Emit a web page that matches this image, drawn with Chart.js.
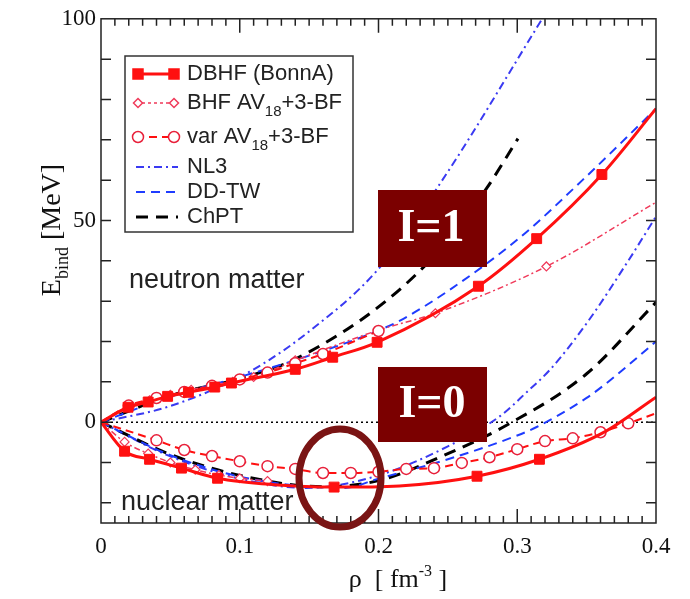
<!DOCTYPE html>
<html>
<head>
<meta charset="utf-8">
<script src="https://cdn.jsdelivr.net/npm/chart.js@4.4.1/dist/chart.umd.min.js"></script>
<style>
  html, body { margin: 0; padding: 0; background: #fff; }
</style>
</head>
<body>
<canvas id="c" width="690" height="599"></canvas>
<script>
// ---- data (rho in fm^-3, E in MeV) ----
const xTicks = [0, 0.1, 0.2, 0.3, 0.4];
const yTicks = [0, 50, 100];

const dbhfNeutRho = [0, 0.0195, 0.034, 0.048, 0.063, 0.082, 0.094, 0.14, 0.167, 0.199, 0.272, 0.314, 0.361, 0.4];
const dbhfNeutE   = [0, 3.7, 5.0, 6.4, 7.4, 8.7, 9.7, 13.1, 16.1, 19.8, 33.7, 45.5, 61.4, 77.7];
const dbhfNuclRho = [0, 0.017, 0.035, 0.058, 0.084, 0.125, 0.168, 0.215, 0.271, 0.316, 0.362, 0.4];
const dbhfNuclE   = [0, -7.2, -9.2, -11.4, -13.9, -15.5, -16.1, -15.8, -13.4, -9.2, -2.6, 6.2];
const dbhfNuclMark = [0, 1, 1, 1, 1, 0, 1, 0, 1, 1, 0, 0];

const bhfNeutRho = [0, 0.02, 0.035, 0.05, 0.065, 0.08, 0.095, 0.11, 0.14, 0.2, 0.241, 0.321, 0.4];
const bhfNeutE   = [0, 3.9, 5.4, 6.8, 8.0, 9.2, 10.0, 11.2, 15.3, 22.8, 27.0, 38.6, 54.5];
const bhfNuclRho = [0, 0.017, 0.034, 0.05, 0.068, 0.085, 0.1, 0.12];
const bhfNuclE   = [0, -4.9, -7.8, -10.0, -11.8, -13.1, -13.9, -14.6];

const varNeutRho = [0, 0.02, 0.04, 0.06, 0.08, 0.10, 0.12, 0.14, 0.16, 0.2];
const varNeutE   = [0, 4.1, 6.0, 7.5, 9.0, 10.6, 12.3, 14.6, 16.9, 22.6];
const varNuclRho = [0, 0.04, 0.06, 0.08, 0.10, 0.12, 0.14, 0.16, 0.18, 0.20, 0.22, 0.24, 0.26, 0.28, 0.30, 0.32, 0.34, 0.36, 0.38, 0.4];
const varNuclE   = [0, -4.5, -6.9, -8.4, -9.7, -10.9, -11.6, -12.6, -12.6, -12.3, -11.6, -11.4, -10.1, -8.7, -6.7, -4.7, -4.0, -2.5, -0.3, 2.2];

const nl3NeutRho = [0, 0.05, 0.107, 0.15, 0.2, 0.246, 0.318];
const nl3NeutE   = [0, 4.0, 12.5, 22.5, 38, 60, 100];
const nl3NuclRho = [0, 0.05, 0.1, 0.148, 0.2, 0.25, 0.2876, 0.307, 0.3236, 0.35, 0.38, 0.4];
const nl3NuclE   = [0, -8.5, -14, -16.3, -13.2, -6.0, 1.5, 7.5, 13.0, 24.5, 40.0, 51.0];

const ddNeutRho = [0, 0.05, 0.1, 0.15, 0.197, 0.2155, 0.25, 0.302, 0.347, 0.4];
const ddNeutE   = [0, 6.3, 11.2, 16.5, 22.3, 25.2, 32.5, 45.8, 60, 77.7];
const ddNuclRho = [0, 0.05, 0.1, 0.15, 0.175, 0.2, 0.25, 0.3, 0.314, 0.35, 0.367, 0.4];
const ddNuclE   = [0, -8.2, -13.5, -16.0, -16.3, -14.0, -9.2, -3.3, -1.2, 6.0, 10.4, 20.0];

const chptNeutRho = [0, 0.05, 0.1, 0.138, 0.206, 0.25, 0.278, 0.3005];
const chptNeutE   = [0, 6.6, 10.8, 15.3, 30.2, 45, 58, 70.3];
const chptNuclRho = [0, 0.05, 0.1, 0.16, 0.2, 0.25, 0.2926, 0.35, 0.4];
const chptNuclE   = [0, -8.0, -13.2, -16.0, -14.5, -7.8, -0.7, 12.0, 29.7];

const zeroRho = [0, 0.4];
const zeroE = [0, 0];

// ---- helpers ----
function pts(rho, e) {
  return rho.map((r, i) => ({ x: r, y: e[i] }));
}
// marker on every point except the two ends
function inner(n, r) {
  return Array.from({ length: n }, (_, i) => (i === 0 || i === n - 1 ? 0 : r));
}

const RED = '#ff1010';
const PINK = '#f03a5a';
const BLUE1 = '#3a3af2';
const BLUE2 = '#1f3cff';

function line(label, data, color, dash, width, extra) {
  return Object.assign({
    label: label,
    data: data,
    borderColor: color,
    borderDash: dash,
    borderWidth: width,
    pointRadius: 0,
    cubicInterpolationMode: 'monotone',
    fill: false,
  }, extra || {});
}

const datasets = [
  line('DBHF n', pts(dbhfNeutRho, dbhfNeutE), RED, [], 3, {
    pointStyle: 'rect', pointRadius: inner(dbhfNeutRho.length, 7),
    pointBackgroundColor: RED, pointBorderColor: RED, pointBorderWidth: 1 }),
  line('DBHF s', pts(dbhfNuclRho, dbhfNuclE), RED, [], 3, {
    pointStyle: 'rect', pointRadius: dbhfNuclMark.map(m => m * 7),
    pointBackgroundColor: RED, pointBorderColor: RED, pointBorderWidth: 1 }),
  line('var n', pts(varNeutRho, varNeutE), RED, [8, 5], 2, {
    pointStyle: 'circle', pointRadius: inner(varNeutRho.length, 5.5).map((r, i, a) => i === a.length - 1 ? 5.5 : r),
    pointBackgroundColor: '#fff', pointBorderColor: '#e8203a', pointBorderWidth: 1.5 }),
  line('var s', pts(varNuclRho, varNuclE), RED, [8, 5], 2, {
    pointStyle: 'circle', pointRadius: inner(varNuclRho.length, 5.5),
    pointBackgroundColor: '#fff', pointBorderColor: '#e8203a', pointBorderWidth: 1.5 }),
  line('BHF n', pts(bhfNeutRho, bhfNeutE), PINK, [6, 3, 2, 3], 1.5, {
    pointStyle: 'rectRot', pointRadius: inner(bhfNeutRho.length, 4.5),
    pointBackgroundColor: '#fff', pointBorderColor: PINK, pointBorderWidth: 1.2 }),
  line('BHF s', pts(bhfNuclRho, bhfNuclE), PINK, [6, 3, 2, 3], 1.5, {
    pointStyle: 'rectRot', pointRadius: inner(bhfNuclRho.length, 4.5).map((r, i, a) => i === a.length - 1 ? 4.5 : r),
    pointBackgroundColor: '#fff', pointBorderColor: PINK, pointBorderWidth: 1.2 }),
  line('DD-TW n', pts(ddNeutRho, ddNeutE), BLUE2, [9, 6], 2),
  line('DD-TW s', pts(ddNuclRho, ddNuclE), BLUE2, [9, 6], 2),
  line('ChPT n', pts(chptNeutRho, chptNeutE), '#000', [12, 8], 3),
  line('ChPT s', pts(chptNuclRho, chptNuclE), '#000', [12, 8], 3),
  line('NL3 n', pts(nl3NeutRho, nl3NeutE), BLUE1, [8, 4, 2, 4], 2),
  line('NL3 s', pts(nl3NuclRho, nl3NuclE), BLUE1, [8, 4, 2, 4], 2),
  line('zero', pts(zeroRho, zeroE), '#000', [2, 3], 1.5, { cubicInterpolationMode: 'default' }),
];

// legend entries (drawn by hand because of the subscripts)
const legendItems = [
  { parts: [['DBHF (BonnA)', 0]], color: RED, dash: [], lw: 3, m: 'rect', mr: 5, fill: RED, stroke: RED },
  { parts: [['BHF AV', 0], ['18', 1], ['+3-BF', 0]], color: PINK, dash: [3, 3], lw: 1.5, m: 'diamond', mr: 4.5, fill: '#fff', stroke: PINK },
  { parts: [['var AV', 0], ['18', 1], ['+3-BF', 0]], color: RED, dash: [8, 5], lw: 2, m: 'circle', mr: 5.5, fill: '#fff', stroke: '#e8203a' },
  { parts: [['NL3', 0]], color: BLUE1, dash: [8, 4, 2, 4], lw: 2, m: null },
  { parts: [['DD-TW', 0]], color: BLUE2, dash: [9, 6], lw: 2, m: null },
  { parts: [['ChPT', 0]], color: '#000', dash: [12, 8], lw: 3, m: null },
];
const legendRows = [74, 103, 137, 167, 192, 217];

function marker(ctx, kind, x, y, r, stroke, fill, lw) {
  ctx.save();
  ctx.setLineDash([]);
  ctx.beginPath();
  if (kind === 'rect') ctx.rect(x - r, y - r, 2 * r, 2 * r);
  else if (kind === 'circle') ctx.arc(x, y, r, 0, Math.PI * 2);
  else {
    ctx.moveTo(x, y - r); ctx.lineTo(x + r, y); ctx.lineTo(x, y + r); ctx.lineTo(x - r, y); ctx.closePath();
  }
  ctx.fillStyle = fill; ctx.fill();
  ctx.lineWidth = lw; ctx.strokeStyle = stroke; ctx.stroke();
  ctx.restore();
}

const overlay = {
  id: 'overlay',
  afterDatasetsDraw(chart) {
    const { ctx, chartArea: a, scales: { x, y } } = chart;
    ctx.save();

    // frame + inward ticks on all four sides
    ctx.strokeStyle = '#222';
    ctx.lineWidth = 1.5;
    ctx.setLineDash([]);
    ctx.strokeRect(a.left, a.top, a.right - a.left, a.bottom - a.top);
    ctx.beginPath();
    for (let i = 1; i < 40; i++) {
      const px = x.getPixelForValue(i / 100);
      const len = i % 10 === 0 ? 14 : 7;
      ctx.moveTo(px, a.bottom); ctx.lineTo(px, a.bottom - len);
      ctx.moveTo(px, a.top); ctx.lineTo(px, a.top + len);
    }
    for (let v = -20; v < 100; v += 10) {
      const py = y.getPixelForValue(v);
      ctx.moveTo(a.left, py); ctx.lineTo(a.left + 10, py);
      ctx.moveTo(a.right, py); ctx.lineTo(a.right - 10, py);
    }
    ctx.stroke();

    // legend box
    ctx.fillStyle = '#fff';
    ctx.fillRect(125, 56, 228, 176);
    ctx.strokeStyle = '#333';
    ctx.lineWidth = 1.5;
    ctx.strokeRect(125, 56, 228, 176);
    legendItems.forEach((it, k) => {
      const ly = legendRows[k];
      ctx.save();
      ctx.strokeStyle = it.color;
      ctx.lineWidth = it.lw;
      ctx.setLineDash(it.dash);
      ctx.beginPath();
      ctx.moveTo(136, ly); ctx.lineTo(178, ly);
      ctx.stroke();
      ctx.restore();
      if (it.m) {
        marker(ctx, it.m, 138, ly, it.mr, it.stroke, it.fill, 1.5);
        marker(ctx, it.m, 174, ly, it.mr, it.stroke, it.fill, 1.5);
      }
      let tx = 187;
      ctx.fillStyle = '#222';
      ctx.textBaseline = 'middle';
      it.parts.forEach(([s, sub]) => {
        ctx.font = sub ? '15px "Liberation Sans", Arial' : '22px "Liberation Sans", Arial';
        ctx.fillText(s, tx, ly + (sub ? 9 : 0));
        tx += ctx.measureText(s).width;
      });
    });

    // matter labels
    ctx.fillStyle = '#222';
    ctx.textBaseline = 'alphabetic';
    ctx.font = '27px "Liberation Sans", Arial';
    ctx.fillText('neutron matter', 129, 288);
    ctx.fillText('nuclear matter', 121, 510);

    // axis titles
    ctx.fillStyle = '#111';
    ctx.save();
    ctx.translate(60, 230);
    ctx.rotate(-Math.PI / 2);
    const yParts = [['E', '28px', 0], ['bind', '18px', 8], [' [MeV]', '28px', 0]];
    let w = 0;
    yParts.forEach(p => { ctx.font = p[1] + ' "Liberation Serif", serif'; w += ctx.measureText(p[0]).width; });
    let tx = -w / 2;
    yParts.forEach(p => {
      ctx.font = p[1] + ' "Liberation Serif", serif';
      ctx.fillText(p[0], tx, p[2]);
      tx += ctx.measureText(p[0]).width;
    });
    ctx.restore();

    const xParts = [['\u03c1  [ fm', '26px', 0], ['-3', '16px', -11], [' ]', '26px', 0]];
    w = 0;
    xParts.forEach(p => { ctx.font = p[1] + ' "Liberation Serif", serif'; w += ctx.measureText(p[0]).width; });
    tx = 398 - w / 2;
    xParts.forEach(p => {
      ctx.font = p[1] + ' "Liberation Serif", serif';
      ctx.fillText(p[0], tx, 587 + p[2]);
      tx += ctx.measureText(p[0]).width;
    });

    // isospin boxes
    ctx.fillStyle = '#7b0000';
    ctx.fillRect(378, 190, 109, 77);
    ctx.fillRect(378, 367, 109, 75);
    ctx.fillStyle = '#fff';
    ctx.font = 'bold 46px "Liberation Serif", serif';
    ctx.textAlign = 'center';
    ctx.textBaseline = 'middle';
    ctx.fillText('I=1', 431, 229);
    ctx.fillText('I=0', 432, 405);

    // highlight ellipse round the saturation point
    ctx.strokeStyle = '#7a1414';
    ctx.lineWidth = 7;
    ctx.beginPath();
    ctx.ellipse(340, 478, 41, 49, 0, 0, Math.PI * 2);
    ctx.stroke();

    ctx.restore();
  }
};

new Chart(document.getElementById('c').getContext('2d'), {
  type: 'line',
  data: { datasets: datasets },
  options: {
    responsive: false,
    animation: false,
    events: [],
    layout: { padding: { top: 18, right: 34, left: 0, bottom: 0 } },
    scales: {
      x: {
        type: 'linear',
        min: 0,
        max: 0.4,
        grid: { display: false, drawTicks: false },
        border: { display: false },
        ticks: {
          stepSize: 0.1,
          padding: 10,
          maxRotation: 0,
          color: '#111',
          font: { family: '"Liberation Serif", serif', size: 23 },
          callback: v => {
            const t = xTicks.find(t => Math.abs(t - v) < 1e-6);
            return t === undefined ? '' : String(t);
          },
        },
        afterFit: s => { s.height = 76; },
      },
      y: {
        type: 'linear',
        min: -25,
        max: 100,
        grid: { display: false, drawTicks: false },
        border: { display: false },
        ticks: {
          stepSize: 50,
          padding: 5,
          color: '#111',
          font: { family: '"Liberation Serif", serif', size: 23 },
          callback: v => (yTicks.includes(v) ? String(v) : ''),
        },
        afterFit: s => { s.width = 101; },
      },
    },
    plugins: {
      legend: { display: false },
      tooltip: { enabled: false },
    },
  },
  plugins: [overlay],
});
</script>
</body>
</html>
